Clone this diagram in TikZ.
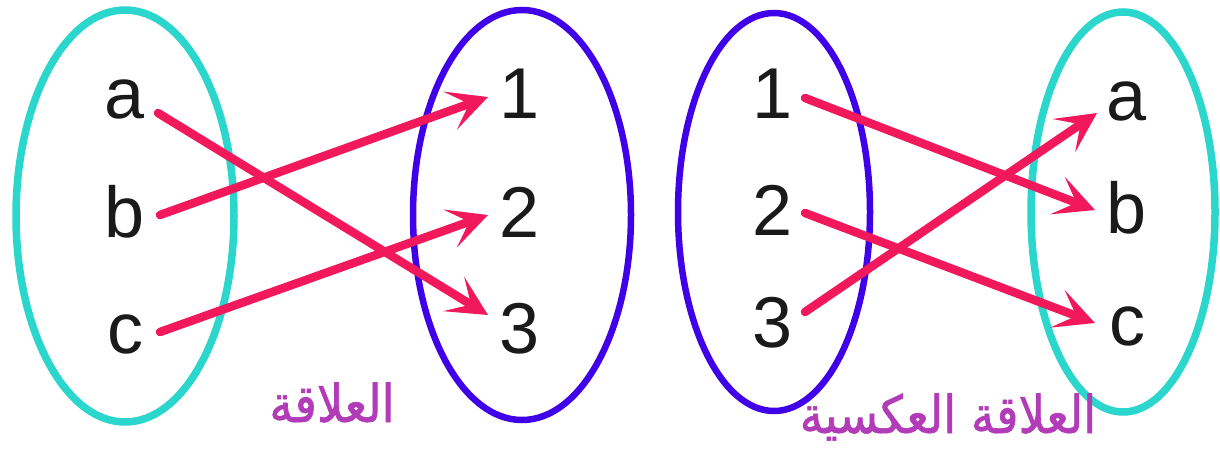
\documentclass[tikz,border=0pt]{standalone}
\usepackage{fontspec}
\setmainfont{Liberation Sans}
\newfontfamily\arabicfont[Script=Arabic,FakeBold=1.2]{DejaVu Sans Condensed}
\TeXXeTstate=1
\usetikzlibrary{arrows.meta,shapes.geometric}
\definecolor{cyanE}{HTML}{2BD6CC}
\definecolor{blueE}{HTML}{4000E8}
\definecolor{arrowC}{HTML}{F2185C}
\definecolor{labelC}{HTML}{B23CB8}
\definecolor{txtC}{HTML}{1A1A1A}
\tikzset{
  setcyan/.style={ellipse,draw=cyanE,line width=7.5pt,inner sep=0pt},
  setblue/.style={ellipse,draw=blueE,line width=6.5pt,inner sep=0pt},
  elem/.style={anchor=base,inner sep=0pt,text=txtC,font=\fontsize{72}{80}\selectfont},
  maparrow/.style={draw=arrowC,line width=8.5pt,line cap=round,
    -{Stealth[length=40pt,width=40pt,inset=20pt]}},
  arlabel/.style={anchor=base,inner sep=0pt,text=labelC,font=\arabicfont\fontsize{52}{58}\selectfont}
}
\begin{document}
\begin{tikzpicture}[x=1pt,y=-1pt]
\useasboundingbox (0,0) rectangle (1220,452);
\fill[white] (0,0) rectangle (1220,452);
% sets
\node[setcyan,minimum width=218pt,minimum height=412pt] (A) at (125,216) {};
\node[setblue,minimum width=218pt,minimum height=410pt] (B) at (522,215) {};
\node[setblue,minimum width=192pt,minimum height=398pt] (C) at (774,212) {};
\node[setcyan,minimum width=184pt,minimum height=400pt] (D) at (1123,212) {};
% elements left pair
\node[elem] (la) at (125,118) {a};
\node[elem] (lb) at (125,237) {b};
\node[elem] (lc) at (125,353) {c};
\node[elem] (l1) at (520,118) {1};
\node[elem] (l2) at (520,237) {2};
\node[elem] (l3) at (520,353) {3};
% elements right pair
\node[elem] (r1) at (773,118) {1};
\node[elem] (r2) at (773,235) {2};
\node[elem] (r3) at (773,347) {3};
\node[elem] (ra) at (1127,120) {a};
\node[elem] (rb) at (1127,233) {b};
\node[elem] (rc) at (1127,345) {c};
% connector ends
\coordinate (la-o) at (158,113);
\coordinate (lb-o) at (160,215);
\coordinate (lc-o) at (160,332);
\coordinate (l1-i) at (488,97);
\coordinate (l2-i) at (488,215);
\coordinate (l3-i) at (488,315);
\coordinate (r1-o) at (805,98);
\coordinate (r2-o) at (805,213);
\coordinate (r3-o) at (805,312);
\coordinate (ra-i) at (1097,113);
\coordinate (rb-i) at (1095,210);
\coordinate (rc-i) at (1095,323);
% arrows
\draw[maparrow] (la-o) -- (l3-i);
\draw[maparrow] (lb-o) -- (l1-i);
\draw[maparrow] (lc-o) -- (l2-i);
\draw[maparrow] (r1-o) -- (rb-i);
\draw[maparrow] (r2-o) -- (rc-i);
\draw[maparrow] (r3-o) -- (ra-i);
% labels
\node[arlabel] (rel) at (332,422) {\beginR العلاقة\endR};
\node[arlabel] (inv) at (948,433) {\beginR العلاقة العكسية\endR};
\end{tikzpicture}
\end{document}
